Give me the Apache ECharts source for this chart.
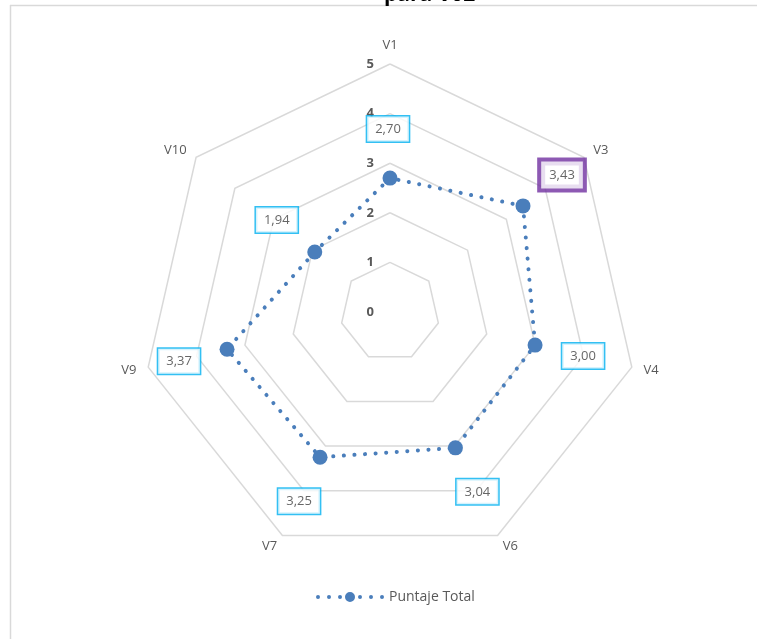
<!DOCTYPE html>
<html>
<head>
<meta charset="utf-8">
<script src="https://cdn.jsdelivr.net/npm/echarts@6/dist/echarts.min.js"></script>
<style>
  html, body { margin: 0; padding: 0; background: #fff; }
  #radarV02 { width: 757px; height: 639px; }
</style>
</head>
<body>
<div id="radarV02"></div>
<script>
// datos del gráfico (orden de Excel, en sentido horario desde arriba)
const categories = ['V1', 'V3', 'V4', 'V6', 'V7', 'V9', 'V10']
const puntaje = [2.70, 3.43, 3.00, 3.04, 3.25, 3.37, 1.94]
const tickLabels = ['0', '1', '2', '3', '4', '5']
const seriesName = 'Puntaje Total'
const titleText = 'para V02'

// desplazamiento de cada etiqueta respecto a su punto (px)
const labelOffsets = [[-2, -49], [39, -31], [48, 11], [22, 44], [-21, 44], [-48, 12], [-38, -32]]
const highlighted = 1 // V3 con borde morado

const CENTER = [390, 312]
const RADIUS = 248
const BLUE = '#4a7ebb'
const FONT = '"Open Sans", "Liberation Sans", sans-serif'

// ECharts dibuja el radar en sentido antihorario: se invierte el orden
const order = categories.map((_, i) => (i === 0 ? 0 : categories.length - i))
const maxVal = Number(tickLabels[tickLabels.length - 1])

const fmt = (v) => v.toFixed(2).replace('.', ',')

// icono de leyenda: puntos con un círculo grande en medio
const dot = (x, r) => `M${x - r},5a${r},${r} 0 1,0 ${2 * r},0a${r},${r} 0 1,0 ${-2 * r},0`
const legendIcon = 'path://' +
  [2, 13, 24].map(x => dot(x, 2)).join('') +
  dot(34, 5) +
  [44, 55, 66].map(x => dot(x, 2)).join('')

const option = {
  animation: false,
  backgroundColor: '#fff',
  graphic: [
    { type: 'line', shape: { x1: 10, y1: 5.5, x2: 757, y2: 5.5 }, style: { stroke: '#d9d9d9', lineWidth: 1.5 } },
    { type: 'line', shape: { x1: 10.5, y1: 5, x2: 10.5, y2: 639 }, style: { stroke: '#d9d9d9', lineWidth: 1.5 } },
    {
      type: 'text', left: 384, top: -15,
      style: { text: titleText, font: 'bold 21px ' + FONT, fill: '#000' }
    }
  ],
  legend: {
    bottom: 30,
    left: 311,
    itemWidth: 68,
    itemHeight: 10,
    itemGap: 6,
    icon: legendIcon,
    textStyle: { color: '#595959', fontSize: 14, fontFamily: FONT },
    data: [{ name: seriesName, itemStyle: { color: BLUE } }]
  },
  radar: {
    center: CENTER,
    radius: RADIUS,
    splitNumber: tickLabels.length - 1,
    indicator: order.map(i => ({ name: categories[i], min: 0, max: maxVal })),
    axisName: { color: '#595959', fontSize: 13, fontFamily: FONT },
    nameGap: 12,
    axisLine: { show: false },
    splitArea: { show: false },
    splitLine: { lineStyle: { color: '#d9d9d9', width: 1.5 } }
  },
  polar: { center: CENTER, radius: RADIUS },
  angleAxis: {
    type: 'value', min: 0, max: categories.length, startAngle: 90, clockwise: true, show: false
  },
  radiusAxis: {
    type: 'value', min: 0, max: maxVal, interval: 1,
    axisLine: { show: false },
    axisTick: { show: false },
    splitLine: { show: false },
    axisLabel: {
      color: '#595959', fontWeight: 'bold', fontSize: 13, fontFamily: FONT, margin: 16,
      formatter: (v) => tickLabels[v]
    }
  },
  series: [
    {
      name: seriesName,
      type: 'radar',
      symbol: 'circle',
      symbolSize: 15,
      itemStyle: { color: BLUE },
      lineStyle: { color: BLUE, width: 4, type: [0.1, 10.5], cap: 'round' },
      data: [{ name: seriesName, value: order.map(i => puntaje[i]) }]
    },
    {
      name: 'etiquetas',
      type: 'scatter',
      coordinateSystem: 'polar',
      symbolSize: 1,
      silent: true,
      itemStyle: { color: 'transparent' },
      z: 5,
      data: puntaje.map((v, i) => ({
        value: [v, i],
        label: {
          show: true,
          position: 'inside',
          offset: labelOffsets[i],
          formatter: fmt(v),
          color: '#404040',
          fontSize: 13,
          fontFamily: FONT,
          backgroundColor: '#fff',
          borderColor: i === highlighted ? '#7030a0' : '#00b0f0',
          borderWidth: i === highlighted ? 4 : 1.5,
          padding: i === highlighted ? [7, 8] : [6, 8]
        }
      }))
    }
  ]
}

const chart = echarts.init(document.getElementById('radarV02'))
chart.setOption(option)
window.addEventListener('resize', function () {
  chart.resize()
})
</script>
</body>
</html>
